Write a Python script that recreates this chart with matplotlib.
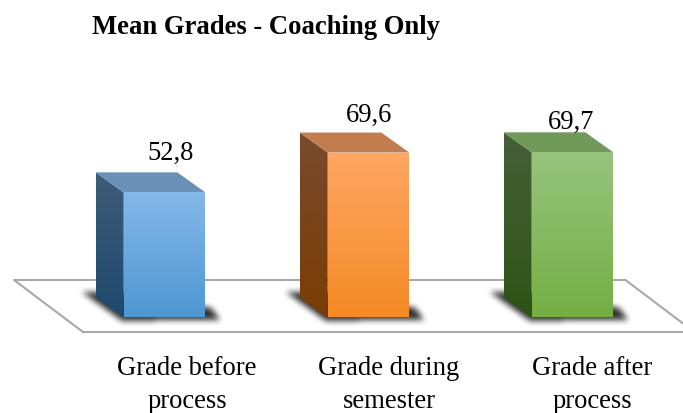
import numpy as np
import matplotlib
matplotlib.use('Agg')
import matplotlib.pyplot as plt
from matplotlib.colors import to_rgb
from matplotlib.patches import Polygon
from matplotlib.path import Path

plt.rcParams['font.family'] = ['Liberation Serif', 'DejaVu Serif']

title = 'Mean Grades - Coaching Only'
categories = ['Grade before\nprocess', 'Grade during\nsemester', 'Grade after\nprocess']
values = [52.8, 69.6, 69.7]

# top / bottom colours of each face
front_colors = [('#86b8ea', '#4e97d3'), ('#ffa662', '#f58a26'), ('#97c47d', '#74af44')]
side_colors = [('#3f5c78', '#1e4a6e'), ('#7a4a2e', '#7a3d04'), ('#46603a', '#2e5415')]
top_colors = ['#6a90b8', '#c17d4e', '#70995a']

W, H = 683, 414
BASE_PX = 318.5       # pixel row of value 0
PX_PER_UNIT = 2.37
X0_PX = 164.5         # pixel column of first bar centre
STEP_PX = 204
BAR_W = 0.40
DEPTH_X = 28 / STEP_PX
DEPTH_Y = 20 / PX_PER_UNIT


def xp(px):
    return (px - X0_PX) / STEP_PX


def yp(py):
    return (BASE_PX - py) / PX_PER_UNIT


def grad_face(ax, pts, c_top, c_bottom, z):
    pts = np.array(pts)
    poly = Polygon(pts, closed=True, transform=ax.transData, fc='none', ec='none')
    ax.add_patch(poly)
    ramp = np.linspace(0, 1, 64)[:, None, None]
    img = (1 - ramp) * np.array(to_rgb(c_top)) + ramp * np.array(to_rgb(c_bottom))
    im = ax.imshow(img, extent=[pts[:, 0].min(), pts[:, 0].max(), pts[:, 1].min(), pts[:, 1].max()],
                   origin='upper', aspect='auto', zorder=z, interpolation='bilinear')
    im.set_clip_path(poly)


def box_blur(a, r):
    kernel = np.ones(2 * r + 1) / (2 * r + 1)
    a = np.apply_along_axis(np.convolve, 0, a, kernel, mode='same')
    return np.apply_along_axis(np.convolve, 1, a, kernel, mode='same')


def soft_shadow(ax, outline_px):
    # blurred dark shape on the floor, outline given in pixels
    outline_px = np.array(outline_px)
    x0, x1 = outline_px[:, 0].min() - 14, outline_px[:, 0].max() + 14
    y0, y1 = outline_px[:, 1].min() - 14, outline_px[:, 1].max() + 14
    xx, yy = np.meshgrid(np.arange(x0, x1) + 0.5, np.arange(y0, y1) + 0.5)
    mask = Path(outline_px).contains_points(np.c_[xx.ravel(), yy.ravel()]).reshape(xx.shape).astype(float)
    for _ in range(2):
        mask = box_blur(mask, 3)
    rgba = np.zeros(mask.shape + (4,))
    rgba[..., 3] = mask * 0.8
    ax.imshow(rgba, extent=[xp(x0), xp(x1), yp(y1), yp(y0)], origin='upper', aspect='auto',
              zorder=2, interpolation='bilinear')


fig = plt.figure(figsize=(W / 100, H / 100), dpi=100)
ax = fig.add_axes([0, 0, 1, 1])

# floor
ax.plot([xp(83), xp(14), xp(625.5), xp(685)], [yp(333), yp(281), yp(281), yp(326)],
        color='#a8a8a8', lw=1.5, zorder=1)
ax.plot([xp(83), xp(690)], [yp(333), yp(333)], color='#a8a8a8', lw=1.5, zorder=1)

for i, v in enumerate(values):
    left, right = i - BAR_W / 2, i + BAR_W / 2
    left_px = X0_PX + left * STEP_PX
    right_px = X0_PX + right * STEP_PX

    soft_shadow(ax, [(left_px - 42, 293), (left_px + 10, 294), (right_px + 6, 309),
                     (right_px + 14, 320.5), (left_px - 2, 322)])

    # side, top, front faces
    grad_face(ax, [(left - DEPTH_X, DEPTH_Y), (left, 0), (left, v), (left - DEPTH_X, v + DEPTH_Y)],
              side_colors[i][0], side_colors[i][1], 3)
    ax.add_patch(Polygon([(left - DEPTH_X, v + DEPTH_Y), (right - DEPTH_X, v + DEPTH_Y), (right, v), (left, v)],
                         closed=True, fc=top_colors[i], ec='none', zorder=3))
    grad_face(ax, [(left, 0), (right, 0), (right, v), (left, v)],
              front_colors[i][0], front_colors[i][1], 4)

# labels, placed by pixel
label_px = [(171, 160), (369, 122), (571, 129)]
for (lx, ly), v in zip(label_px, values):
    ax.text(xp(lx), yp(ly), f'{v:.1f}'.replace('.', ','), ha='center', va='baseline',
            fontsize=19.2, color='black', zorder=5)

cat_px = [187, 389, 592]
for lx, c in zip(cat_px, categories):
    ax.text(xp(lx), yp(408), c, ha='center', va='baseline', fontsize=19.2,
            linespacing=1.44, color='black', zorder=5)

ax.text(xp(92), yp(34), title, ha='left', va='baseline', fontsize=19.2, fontweight='bold', color='black')

ax.set_xlim(xp(0), xp(W))
ax.set_ylim(yp(H), yp(0))
ax.axis('off')
fig.savefig('out.png', dpi=100)
